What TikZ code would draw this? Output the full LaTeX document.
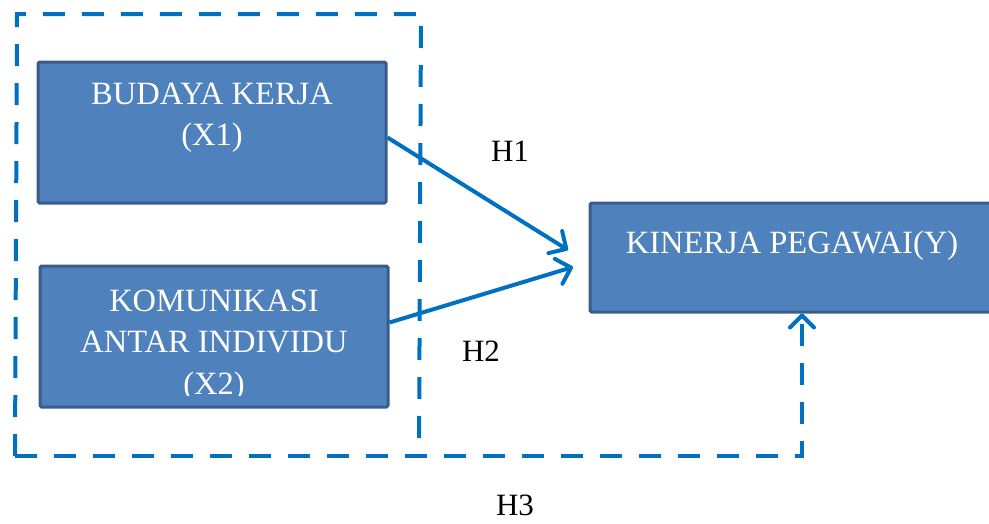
\documentclass[tikz,border=0pt]{standalone}
\usepackage{fontspec}
\setmainfont{Liberation Serif}
\usetikzlibrary{arrows.meta,calc}
\definecolor{linkblue}{HTML}{0070C0}
\definecolor{boxfill}{HTML}{4F81BD}
\definecolor{boxedge}{HTML}{385D8A}
\tikzset{
  varbox/.style={draw=boxedge,fill=boxfill,line width=3pt,rounded corners=1.5pt,inner sep=0pt},
  boxtext/.style={text=white,align=center,inner sep=0pt,font=\fontsize{32.5}{41.5}\selectfont},
  hlabel/.style={text=black,inner sep=0pt,font=\fontsize{31}{40}\selectfont},
  dashline/.style={draw=linkblue,line width=4pt,dash pattern=on 22pt off 17pt},
  solidarrow/.style={draw=linkblue,line width=4pt,-{Straight Barb[length=13pt,width=26pt,line cap=round,line join=round]}},
  dasharrow/.style={dashline,-{Straight Barb[length=12pt,width=24pt,line cap=round,line join=round]}}
}
\begin{document}
\begin{tikzpicture}[x=1pt,y=-1pt]
\useasboundingbox (0,0) rectangle (989,523);
\begin{scope}
\clip (0,0) rectangle (989,523);
% boxes
\node[varbox,minimum width=348pt,minimum height=141pt] (b1) at (212,132.5) {};
\node[varbox,minimum width=348pt,minimum height=141pt] (b2) at (214,336.5) {};
\node[varbox,minimum width=405pt,minimum height=109pt] (y) at (792.5,257.5) {};
% texts
\node[boxtext,anchor=north] (b1t) at (212,82.5) {BUDAYA KERJA\\(X1)};
\begin{scope}
\clip (40,268) rectangle (388,395);
\node[boxtext,anchor=north] (b2t) at (214,289.5) {KOMUNIKASI\\ANTAR INDIVIDU\\(X2)};
\end{scope}
\node[boxtext,anchor=base] (yt) at (792,253) {KINERJA PEGAWAI(Y)};
% dashed frame
\coordinate (ftl) at (17,14);
\coordinate (ftr) at (421,14);
\coordinate (fbr) at (419,456);
\coordinate (fbl) at (15,456);
\coordinate (fcorner) at (802,456);
\draw[dashline] (fbl) -- (ftl) -- (ftr) -- (fbr);
\draw[dasharrow] (fbl) -- (fcorner) -- (y.south -| fcorner);
% arrows
\coordinate (s1) at ($(b1.east)+(0,5)$);
\coordinate (t1) at (568,250);
\coordinate (s2) at ($(b2.east)+(0,-14)$);
\coordinate (t2) at (573,267);
\draw[solidarrow] (s1) -- (t1);
\draw[solidarrow] (s2) -- (t2);
% labels
\node[hlabel,anchor=base] (h1) at (510,161) {H1};
\node[hlabel,anchor=base] (h2) at (481,361) {H2};
\node[hlabel,anchor=base] (h3) at (515,515) {H3};
\end{scope}
\end{tikzpicture}
\end{document}
